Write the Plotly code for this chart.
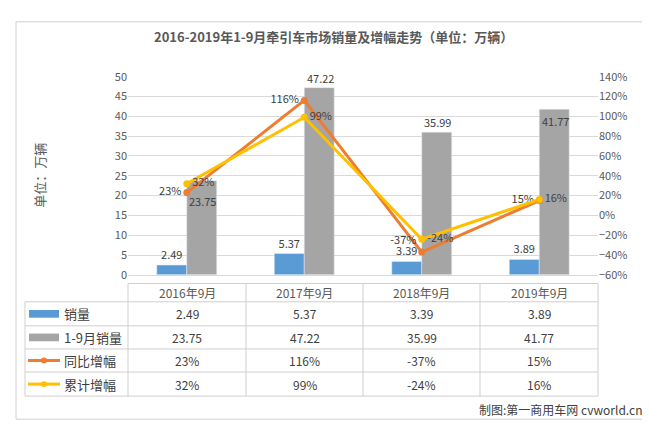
import plotly.graph_objects as go

W, H = 650, 423
categories = ["2016年9月", "2017年9月", "2018年9月", "2019年9月"]
sales = [2.49, 5.37, 3.39, 3.89]
ytd_sales = [23.75, 47.22, 35.99, 41.77]
yoy = [23, 116, -37, 15]
ytd_growth = [32, 99, -24, 16]
series_names = ["销量", "1-9月销量", "同比增幅", "累计增幅"]

BLUE, GRAY, ORANGE, YELLOW = "#5b9bd5", "#a5a5a5", "#ed7d31", "#ffc000"

def px(x):
    return x / W

def py(y):
    return 1 - y / H

fig = go.Figure()
fig.add_trace(go.Bar(x=categories, y=sales, marker_color=BLUE, text=[f"{v:.2f}" for v in sales],
                     textposition="outside", cliponaxis=False, textfont=dict(size=11, color="#404040")))
fig.add_trace(go.Bar(x=categories, y=ytd_sales, marker_color=GRAY))
fig.add_trace(go.Scatter(x=categories, y=yoy, yaxis="y2", mode="lines+markers+text",
                         line=dict(color=ORANGE, width=3), marker=dict(size=7),
                         text=[f"{v}%" for v in yoy],
                         textposition=["middle left", "middle left", "top left", "middle left"],
                         textfont=dict(size=11, color="#404040"), cliponaxis=False))
fig.add_trace(go.Scatter(x=categories, y=ytd_growth, yaxis="y2", mode="lines+markers+text",
                         line=dict(color=YELLOW, width=3), marker=dict(size=7),
                         text=[f"{v}%" for v in ytd_growth], textposition="middle right",
                         textfont=dict(size=11, color="#404040"), cliponaxis=False))

x0, x1 = 120, 590
fig.update_layout(
    width=W, height=H, margin=dict(l=0, r=0, t=0, b=0),
    paper_bgcolor="white", plot_bgcolor="white", showlegend=False,
    font=dict(family="Noto Sans CJK SC", color="#595959", size=11),
    barmode="group", bargap=0.49, bargroupgap=0,
    xaxis=dict(domain=[px(x0), px(x1)], showticklabels=False, showline=True, linecolor="#d9d9d9"),
    yaxis=dict(domain=[py(268), py(62)], range=[0, 50], dtick=5, gridcolor="#d9d9d9",
               zeroline=False, tickfont=dict(size=11)),
    yaxis2=dict(overlaying="y", side="right", range=[-60, 140], dtick=20, ticksuffix="%",
                showgrid=False, zeroline=False, tickfont=dict(size=11)),
)

# gray bar labels: Excel placed some inside, some above the bar top
shifts = [-20, 10, 10, -12]
bar_ann = [dict(x=c, y=v, xref="x", yref="y", xshift=16, yshift=s, text=f"{v:.2f}", showarrow=False,
                font=dict(size=11, color="#404040"))
           for c, v, s in zip(categories, ytd_sales, shifts)]

ann = [
    dict(x=0.5, y=py(20), text="<b>2016-2019年1-9月牵引车市场销量及增幅走势（单位：万辆）</b>",
         font=dict(size=13, color="#595959")),
    dict(x=px(32), y=py(165), text="单位：万辆", textangle=-90, font=dict(size=13, color="#595959")),
    dict(x=px(636), y=py(408), text="制图:第一商用车网 cvworld.cn", xanchor="right",
         font=dict(size=12, color="#404040")),
]
shapes = [dict(type="rect", xref="paper", yref="paper", x0=px(8), x1=px(641), y0=py(5), y1=py(418),
               line=dict(color="#d0d0d0", width=1))]

cols = [17, 120, 238, 355, 472, 590]
rows = [277, 296, 321, 345, 369, 394]
lc = "#cfcfcf"
for yv in rows:
    shapes.append(dict(type="line", xref="paper", yref="paper", x0=px(cols[0] if yv != rows[0] else cols[1]),
                       x1=px(cols[-1]), y0=py(yv), y1=py(yv), line=dict(color=lc, width=1)))
for i, xv in enumerate(cols):
    shapes.append(dict(type="line", xref="paper", yref="paper", x0=px(xv), x1=px(xv),
                       y0=py(rows[1] if i == 0 else rows[0]), y1=py(rows[-1]), line=dict(color=lc, width=1)))
for j, c in enumerate(categories):
    ann.append(dict(x=px((cols[j + 1] + cols[j + 2]) / 2), y=py((rows[0] + rows[1]) / 2), text=c,
                    font=dict(size=12, color="#595959")))
table_vals = [[f"{v:.2f}" for v in sales], [f"{v:.2f}" for v in ytd_sales],
              [f"{v}%" for v in yoy], [f"{v}%" for v in ytd_growth]]
colors = [BLUE, GRAY, ORANGE, YELLOW]
for r in range(4):
    yc = (rows[r + 1] + rows[r + 2]) / 2
    if r < 2:
        shapes.append(dict(type="rect", xref="paper", yref="paper", x0=px(21), x1=px(51),
                           y0=py(yc - 4), y1=py(yc + 4), fillcolor=colors[r], line=dict(width=0)))
    else:
        shapes.append(dict(type="line", xref="paper", yref="paper", x0=px(20), x1=px(52),
                           y0=py(yc), y1=py(yc), line=dict(color=colors[r], width=3)))
        shapes.append(dict(type="circle", xref="paper", yref="paper", x0=px(33), x1=px(39),
                           y0=py(yc - 3), y1=py(yc + 3), fillcolor=colors[r], line=dict(width=0)))
    ann.append(dict(x=px(54), y=py(yc), text=series_names[r], xanchor="left",
                    font=dict(size=13, color="#404040")))
    for j in range(4):
        ann.append(dict(x=px((cols[j + 1] + cols[j + 2]) / 2), y=py(yc), text=table_vals[r][j],
                        font=dict(size=12, color="#404040")))
for a in ann:
    a.setdefault("xanchor", "center")
    a.update(xref="paper", yref="paper", showarrow=False, yanchor="middle")
fig.update_layout(annotations=ann + bar_ann, shapes=shapes)
fig.write_html("out.html")
